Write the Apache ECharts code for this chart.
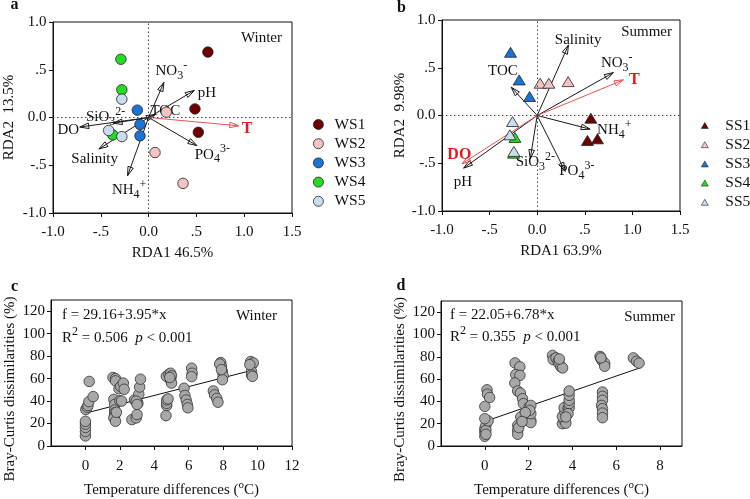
<!DOCTYPE html>
<html><head><meta charset="utf-8">
<script src="https://cdn.jsdelivr.net/npm/echarts@6/dist/echarts.min.js"></script>
<style>html,body{margin:0;padding:0;background:#fff}#c{width:750px;height:499px}</style>
</head><body><div id="c"></div>
<script>
const FONT = "'Liberation Serif', 'Times New Roman', serif";
const FS = 15;
const INK = '#111';

// ---------- Panel a : Winter RDA ----------
const winterSites = ['WS1', 'WS2', 'WS3', 'WS4', 'WS5'];
const ws1 = [[0.62, 0.685], [0.485, 0.09], [0.52, -0.155]];
const ws2 = [[0.185, 0.056], [0.067, -0.367], [0.36, -0.69]];
const ws3 = [[-0.118, 0.077], [-0.09, -0.073], [-0.09, -0.192]];
const ws4 = [[-0.29, 0.61], [-0.28, 0.29], [-0.375, -0.182]];
const ws5 = [[-0.28, 0.192], [-0.418, -0.136], [-0.28, -0.2]];
const winterVars   = ['NO3-', 'pH', 'TOC', 'T', 'PO43-', 'NH4+', 'Salinity', 'DO', 'SiO32-'];
const winterArrowX = [0.16, 0.478, 0.07, 0.942, 0.505, -0.22, -0.52, -0.72, -0.37];
const winterArrowY = [0.367, 0.283, 0.03, -0.087, -0.294, -0.61, -0.33, -0.1, -0.06];
const winterLabelX = [0.238, 0.61, 0.175, 1.03, 0.667, -0.204, -0.564, -0.84, -0.45];
const winterLabelY = [0.483, 0.255, 0.07, -0.12, -0.39, -0.76, -0.437, -0.13, 0.0];
const winterRed = ['T'];

// ---------- Panel b : Summer RDA ----------
const summerSites = ['SS1', 'SS2', 'SS3', 'SS4', 'SS5'];
const ss1 = [[0.563, -0.028], [0.528, -0.261], [0.633, -0.244]];
const ss2 = [[0.031, 0.338], [0.122, 0.338], [0.325, 0.355]];
const ss3 = [[-0.28, 0.662], [-0.189, 0.373], [-0.08, 0.199]];
const ss4 = [[-0.234, -0.23], [-0.248, -0.394]];
const ss5 = [[-0.259, -0.063], [-0.287, -0.202], [-0.245, -0.376]];
const summerVars   = ['Salinity', 'NO3-', 'T', 'TOC', 'NH4+', 'PO43-', 'SiO32-', 'pH', 'DO'];
const summerArrowX = [0.329, 0.80, 0.906, -0.273, 0.556, 0.294, -0.073, -0.773, -0.79];
const summerArrowY = [0.739, 0.449, 0.373, 0.296, -0.143, -0.585, -0.453, -0.551, -0.505];
const summerLabelX = [0.43, 0.836, 1.02, -0.36, 0.81, 0.416, -0.02, -0.78, -0.818];
const summerLabelY = [0.79, 0.547, 0.373, 0.467, -0.155, -0.585, -0.49, -0.697, -0.411];
const summerRed = ['T', 'DO'];

const siteColors = ['#6e0000', '#f4c3c3', '#1a74d6', '#22dd22', '#c9dcf0'];
const rdaTicks = [-1, -0.5, 0, 0.5, 1, 1.5];
const rdaTickLabels = ['-1.0', '-.5', '0.0', '.5', '1.0', '1.5'];

// ---------- Panel c : Winter dissimilarity ----------
const winterDiss = [
  [0, 9], [0, 13], [0, 16.5], [0, 19.5], [0, 22], [0.02, 32.5], [0.1, 34.5], [0.15, 36], [0.2, 39.5], [0.22, 57.5], [0.45, 44],
  [1.6, 61], [1.75, 60], [1.75, 58], [1.65, 41.5], [1.7, 37], [1.7, 32], [1.7, 29.5], [1.7, 27], [1.65, 25], [1.75, 22],
  [1.95, 51], [2.05, 53], [2.2, 56], [2.25, 50.5], [2.0, 40.3], [2.1, 40], [1.8, 30],
  [2.7, 23.5], [2.95, 25], [3.0, 28], [2.85, 41], [3.0, 39.5], [3.05, 38], [3.1, 46], [3.15, 52.5], [3.2, 59.5], [2.95, 40], [3.0, 37],
  [4.68, 27], [4.72, 36], [4.72, 38], [4.72, 41], [4.8, 42], [4.7, 62], [4.85, 64], [4.95, 64.8], [5.0, 62.5], [4.95, 58.8], [5.0, 56], [4.9, 61],
  [5.73, 51.4], [5.78, 45], [5.85, 41], [5.92, 37], [5.95, 34], [6.17, 69.3], [6.2, 64.8], [6.17, 61.8],
  [7.43, 49], [7.5, 45.5], [7.63, 42.4], [7.7, 39], [7.86, 74.3], [7.9, 71], [7.96, 66.3], [8.0, 62.5], [7.96, 59], [7.8, 73], [7.9, 68],
  [9.6, 75.2], [9.7, 73], [9.75, 74], [9.65, 66.3], [9.65, 63.3], [9.7, 62], [9.55, 72.5]
];
const winterFit = [[0, 29.2], [9.75, 67.7]];

// ---------- Panel d : Summer dissimilarity ----------
const summerDiss = [
  [0, 8.7], [0, 12.5], [0, 15.5], [0.05, 18.5], [0.05, 14], [0.15, 22.5], [0, 24.5], [0, 35.5], [0.1, 50.4], [0.12, 46.5], [0.22, 43.5], [0.05, 10.5],
  [1.38, 74.5], [1.6, 71], [1.41, 64], [1.6, 63.3], [1.37, 56.5], [1.5, 49.3], [1.62, 47.5], [1.72, 42.4], [1.76, 38], [2.02, 35], [2.1, 36.4],
  [1.8, 28.4], [1.64, 26], [1.8, 23], [1.5, 18.5], [1.5, 14], [1.5, 10.5], [1.55, 16.5], [1.92, 24.5], [2.1, 23], [2.1, 21], [2.1, 29], [2.05, 32], [1.85, 30], [1.7, 22],
  [3.09, 81.2], [3.12, 77.5], [3.25, 79], [3.35, 76], [3.39, 73.7], [3.47, 71], [3.55, 70], [3.4, 78],
  [3.54, 20], [3.6, 23.5], [3.7, 20.5], [3.54, 26.5], [3.65, 30.8], [3.62, 34.4], [3.8, 33.4], [3.85, 34.4], [3.85, 38], [3.85, 41], [3.85, 45.4], [3.85, 49.3], [3.8, 29], [3.7, 26],
  [5.26, 80.3], [5.3, 78.2], [5.37, 76], [5.47, 74.3], [5.47, 71.5], [5.3, 79],
  [5.37, 48.4], [5.37, 44.5], [5.37, 41], [5.33, 36.4], [5.37, 33.4], [5.37, 29.5], [5.37, 25.4],
  [6.78, 79], [6.93, 76], [7.04, 74.3]
];
const summerFit = [[0, 22], [7.1, 70.2]];

const dissTicks = [0, 20, 40, 60, 80, 100, 120];

// ---------- text helpers ----------
const labelParts = {
  'NO3-': [['NO'], ['3', 'sub'], ['-', 'sup']],
  'PO43-': [['PO'], ['4', 'sub'], ['3-', 'sup']],
  'NH4+': [['NH'], ['4', 'sub'], ['+', 'sup']],
  'SiO32-': [['SiO'], ['3', 'sub'], ['2-', 'sup']]
};
const mctx = document.createElement('canvas').getContext('2d');
function fontStr(w, s, st) { return (st || 'normal') + ' ' + (w || 'normal') + ' ' + s + 'px ' + FONT; }
function measure(t, f) { mctx.font = f; return mctx.measureText(t).width; }
function compText(parts, x, y, o) {
  o = Object.assign({ size: FS, small: 12, color: INK, weight: 'normal', anchor: 'center' }, o || {});
  const items = parts.map(p => {
    const k = p[1] || 'n';
    const sz = (k === 'n' || k === 'i') ? o.size : o.small;
    const f = fontStr(o.weight, sz, k === 'i' ? 'italic' : 'normal');
    return { t: p[0], f: f, w: measure(p[0], f), dy: k === 'sub' ? o.size * 0.3 : (k === 'sup' ? -o.size * 0.38 : 0) };
  });
  const total = items.reduce((s, it) => s + it.w, 0);
  let cx = o.anchor === 'center' ? x - total / 2 : (o.anchor === 'right' ? x - total : x);
  return items.map(it => {
    const el = { type: 'text', x: cx, y: y + it.dy, silent: true,
      style: { text: it.t, font: it.f, fill: o.color, align: 'left', verticalAlign: 'middle', textAlign: 'left', textVerticalAlign: 'middle' } };
    cx += it.w;
    return el;
  });
}

function arrowSeries(gi, vars, ax, ay, lx, ly, reds) {
  return {
    type: 'custom', xAxisIndex: gi, yAxisIndex: gi, silent: true, clip: false, z: 3,
    data: ax.map((v, i) => [v, ay[i]]),
    encode: { x: 0, y: 1 },
    renderItem: function (params, api) {
      const i = params.dataIndex;
      const name = vars[i];
      const red = reds.indexOf(name) >= 0;
      const col = red ? '#e65555' : '#1a1a1a';
      const o = api.coord([0, 0]);
      const p = api.coord([api.value(0), api.value(1)]);
      const dx = p[0] - o[0], dy = p[1] - o[1];
      const L = Math.hypot(dx, dy) || 1;
      const ux = dx / L, uy = dy / L, hl = 9, hw = 2.8;
      const bx = p[0] - ux * hl, by = p[1] - uy * hl;
      const w1 = [bx - uy * hw, by + ux * hw], w2 = [bx + uy * hw, by - ux * hw];
      const lc = api.coord([lx[i], ly[i]]);
      const parts = labelParts[name] || [[name]];
      const children = [
        { type: 'line', shape: { x1: o[0], y1: o[1], x2: p[0], y2: p[1] }, style: { stroke: col, lineWidth: 1 } },
        { type: 'polygon', shape: { points: [w1, p, w2] }, style: { stroke: col, fill: 'none', lineWidth: 1 } }
      ].concat(compText(parts, lc[0], lc[1], red ? { color: '#e31a1c', weight: 'bold', size: 16 } : {}));
      return { type: 'group', children: children };
    }
  };
}

function rdaFmt(v) {
  const i = rdaTicks.findIndex(t => Math.abs(t - v) < 1e-9);
  return i < 0 ? '' : rdaTickLabels[i];
}
const labelStyle = { fontFamily: FONT, fontSize: FS, color: INK };
const nameStyle = { fontFamily: FONT, fontSize: FS, color: INK, rich: { sup: { fontFamily: FONT, fontSize: 11, padding: [0, 0, 10, 0], color: INK } } };
const axLine = { show: true, onZero: false, lineStyle: { color: INK, width: 1 } };

function rdaXAxis(gi, name) {
  return { gridIndex: gi, type: 'value', min: -1, max: 1.5, interval: 0.5, axisLine: axLine,
    axisTick: { length: 4, inside: false, lineStyle: { color: INK } },
    axisLabel: Object.assign({ formatter: rdaFmt, margin: 12 }, labelStyle), splitLine: { show: false },
    name: name, nameLocation: 'middle', nameGap: 33, nameTextStyle: nameStyle };
}
function rdaYAxis(gi, name, gap) {
  return { gridIndex: gi, type: 'value', min: -1, max: 1, interval: 0.5, axisLine: axLine,
    axisTick: { length: 4, lineStyle: { color: INK } },
    axisLabel: Object.assign({ formatter: rdaFmt, margin: 6.5 }, labelStyle), splitLine: { show: false },
    name: name, nameLocation: 'middle', nameGap: gap, nameTextStyle: nameStyle };
}
function dissXAxis(gi, max, ticks) {
  return { gridIndex: gi, type: 'value', min: -2, max: max, interval: 2, axisLine: axLine,
    axisTick: { length: 4, lineStyle: { color: INK }, customValues: ticks },
    axisLabel: Object.assign({ margin: 13, customValues: ticks,
      formatter: v => (ticks.indexOf(v) >= 0 ? String(v) : '') }, labelStyle),
    splitLine: { show: false },
    name: 'Temperature differences ({sup|o}C)', nameLocation: 'middle', nameGap: 34, nameTextStyle: nameStyle };
}
function dissYAxis(gi, gap) {
  return { gridIndex: gi, type: 'value', min: 0, max: 130, interval: 20, axisLine: axLine,
    axisTick: { length: 4, lineStyle: { color: INK }, customValues: dissTicks },
    axisLabel: Object.assign({ margin: 6, customValues: dissTicks,
      formatter: v => (dissTicks.indexOf(v) >= 0 ? String(v) : '') }, labelStyle),
    splitLine: { show: false },
    name: 'Bray-Curtis dissimilarities (%)', nameLocation: 'middle', nameGap: gap,
    nameTextStyle: Object.assign({}, nameStyle, { padding: [0, 32, 0, 0] }) };
}

const zeroLines = { silent: true, symbol: ['none', 'none'], label: { show: false },
  lineStyle: { type: [1.5, 2.5], color: '#444', width: 1 }, emphasis: { disabled: true },
  data: [{ xAxis: 0 }, { yAxis: 0 }] };

const winterGroups = [ws1, ws2, ws3, ws4, ws5];
const summerGroups = [ss1, ss2, ss3, ss4, ss5];

const series = [];
series.push(arrowSeries(0, winterVars, winterArrowX, winterArrowY, winterLabelX, winterLabelY, winterRed));
series.push(arrowSeries(1, summerVars, summerArrowX, summerArrowY, summerLabelX, summerLabelY, summerRed));
winterGroups.forEach((g, i) => series.push({
  type: 'scatter', name: winterSites[i], xAxisIndex: 0, yAxisIndex: 0, data: g, symbol: 'circle', symbolSize: 10.5, z: 4,
  itemStyle: { color: siteColors[i], borderColor: '#222', borderWidth: 0.8, opacity: 1 },
  markLine: i === 0 ? zeroLines : undefined
}));
summerGroups.forEach((g, i) => series.push({
  type: 'scatter', name: summerSites[i], xAxisIndex: 1, yAxisIndex: 1, data: g, symbol: 'triangle', symbolSize: [12, 10], z: 4,
  itemStyle: { color: siteColors[i], borderColor: '#222', borderWidth: 0.8, opacity: 1 },
  markLine: i === 0 ? zeroLines : undefined
}));
series.push({ type: 'line', xAxisIndex: 2, yAxisIndex: 2, data: winterFit, symbol: 'none', lineStyle: { color: INK, width: 1 }, z: 2 });
series.push({ type: 'line', xAxisIndex: 3, yAxisIndex: 3, data: summerFit, symbol: 'none', lineStyle: { color: INK, width: 1 }, z: 2 });
series.push({ type: 'scatter', xAxisIndex: 2, yAxisIndex: 2, data: winterDiss, symbolSize: 10.5, z: 4,
  itemStyle: { color: '#a8a8a8', borderColor: '#333', borderWidth: 0.8, opacity: 1 } });
series.push({ type: 'scatter', xAxisIndex: 3, yAxisIndex: 3, data: summerDiss, symbolSize: 10.5, z: 4,
  itemStyle: { color: '#a8a8a8', borderColor: '#333', borderWidth: 0.8, opacity: 1 } });

const grids = [
  { left: 53, top: 22, width: 239, height: 191 },
  { left: 442, top: 20, width: 238, height: 191 },
  { left: 51, top: 300, width: 241, height: 146 },
  { left: 441, top: 301, width: 241, height: 145 }
].map(g => Object.assign({ show: true, borderColor: INK, borderWidth: 1, backgroundColor: 'transparent', containLabel: false }, g));

const legendBase = { orient: 'vertical', itemGap: 3.2, selectedMode: false,
  textStyle: { fontFamily: FONT, fontSize: 15.5, color: INK } };

const graphicEls = [].concat(
  compText([['a']], 14.5, 5, { weight: 'bold', size: 16 }),
  compText([['b']], 401.5, 8, { weight: 'bold', size: 16 }),
  compText([['c']], 14.5, 287, { weight: 'bold', size: 16 }),
  compText([['d']], 401, 285.5, { weight: 'bold', size: 16 }),
  compText([['Winter']], 282, 38, { anchor: 'right' }),
  compText([['Summer']], 672, 32, { anchor: 'right' }),
  compText([['f = 29.16+3.95*x']], 62, 315, { anchor: 'left' }),
  compText([['R'], ['2', 'sup'], [' = 0.506  '], ['p', 'i'], [' < 0.001']], 62, 338, { anchor: 'left' }),
  compText([['Winter']], 277, 316.5, { anchor: 'right' }),
  compText([['f = 22.05+6.78*x']], 450, 315, { anchor: 'left' }),
  compText([['R'], ['2', 'sup'], [' = 0.355  '], ['p', 'i'], [' < 0.001']], 450, 337, { anchor: 'left' }),
  compText([['Summer']], 675, 317, { anchor: 'right' })
);

const chart = echarts.init(document.getElementById('c'), null, { renderer: 'canvas' });
chart.setOption({
  animation: false,
  backgroundColor: '#fff',
  grid: grids,
  xAxis: [rdaXAxis(0, 'RDA1 46.5%'), rdaXAxis(1, 'RDA1 63.9%'), dissXAxis(2, 12, [0, 2, 4, 6, 8, 10, 12]), dissXAxis(3, 9, [0, 2, 4, 6, 8])],
  yAxis: [rdaYAxis(0, 'RDA2  13.5%', 36), rdaYAxis(1, 'RDA2  9.98%', 34.5), dissYAxis(2, 33.5), dissYAxis(3, 33.5)],
  legend: [
    Object.assign({}, legendBase, { left: 308, top: 111.5, itemWidth: 10, itemHeight: 10,
      data: winterSites.map(n => ({ name: n, icon: 'circle' })),
      itemStyle: { borderColor: '#222', borderWidth: 0.8 },
      textStyle: Object.assign({}, legendBase.textStyle, { padding: [0, 0, 0, 6] }) }),
    Object.assign({}, legendBase, { left: 696, top: 112.5, itemWidth: 7, itemHeight: 6,
      data: summerSites.map(n => ({ name: n, icon: 'triangle' })),
      itemStyle: { borderColor: '#222', borderWidth: 0.6 },
      textStyle: Object.assign({}, legendBase.textStyle, { padding: [0, 0, 0, 12] }) })
  ],
  graphic: { elements: graphicEls },
  series: series
});
</script></body></html>
